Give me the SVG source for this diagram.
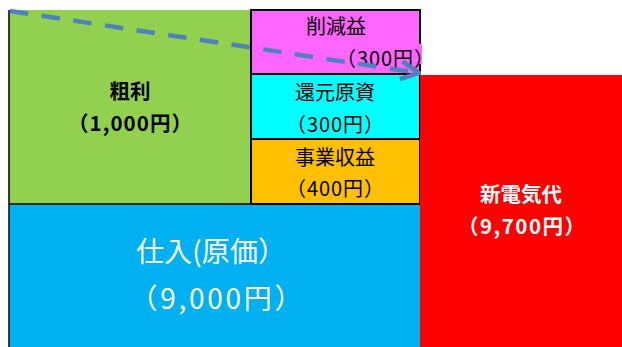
<svg xmlns="http://www.w3.org/2000/svg" width="622" height="347" viewBox="0 0 622 347">
<defs>
<style>
.t{font-family:"Noto Sans CJK JP","Noto Sans",sans-serif;text-anchor:middle;dominant-baseline:central}
.k{fill:#000;font-size:20px}
.b{font-weight:bold;font-size:20.5px}
.w{fill:#fff;font-size:28px}
.box{stroke:#000;stroke-width:2}
</style>
<marker id="ah" viewBox="0 0 10 10" refX="9" refY="5" markerWidth="5" markerHeight="5" orient="auto" markerUnits="strokeWidth">
<path d="M1,1 L9,5 L1,9" fill="none" stroke="#4F81BD" stroke-width="2"/>
</marker>
</defs>
<rect width="622" height="347" fill="#fff"/>
<g id="shiire">
<rect x="9" y="204" width="411" height="143" fill="#00B0F0"/>
<text class="t w" x="211" y="250" textLength="150" lengthAdjust="spacing">仕入(原価）</text>
<text class="t w" x="216" y="297" textLength="173" lengthAdjust="spacing">（9,000円）</text>
</g>
<g id="arari">
<rect x="9" y="10" width="242" height="194" fill="#92D050"/>
<path d="M9,10 V347 M9,204 H251" fill="none" stroke="#000" stroke-width="1.5"/>
<text class="t b" x="130" y="90" fill="#000">粗利</text>
<text class="t b" x="130" y="122" fill="#000" textLength="124" lengthAdjust="spacing">（1,000円）</text>
</g>
<g id="sakugen">
<rect class="box" x="251" y="10" width="169" height="64" fill="#FF66FF"/>
<rect x="360" y="44" width="62" height="20" fill="#FF66FF"/>
<text class="t k" x="336" y="25">削減益</text>
<text class="t k" x="385" y="57" textLength="98" lengthAdjust="spacing">（300円）</text>
</g>
<g id="kangen">
<rect class="box" x="251" y="74" width="169" height="65" fill="#00FFFF"/>
<text class="t k" x="335" y="91">還元原資</text>
<text class="t k" x="335" y="123" textLength="98" lengthAdjust="spacing">（300円）</text>
</g>
<g id="jigyo">
<rect class="box" x="251" y="139" width="169" height="65" fill="#FFC000"/>
<text class="t k" x="335" y="156">事業収益</text>
<text class="t k" x="335" y="187" textLength="98" lengthAdjust="spacing">（400円）</text>
</g>
<g id="shindenki">
<rect x="420" y="75" width="202" height="272" fill="#FF0000"/>
<text class="t b" x="521" y="193" fill="#fff">新電気代</text>
<text class="t b" x="521.5" y="225" fill="#fff" textLength="127" lengthAdjust="spacing">（9,700円）</text>
</g>
<g id="connectors">
<line x1="10" y1="11" x2="419" y2="73" stroke="#4F81BD" stroke-width="4.5" stroke-dasharray="18.5,13.5" marker-end="url(#ah)"/>
</g>
</svg>
